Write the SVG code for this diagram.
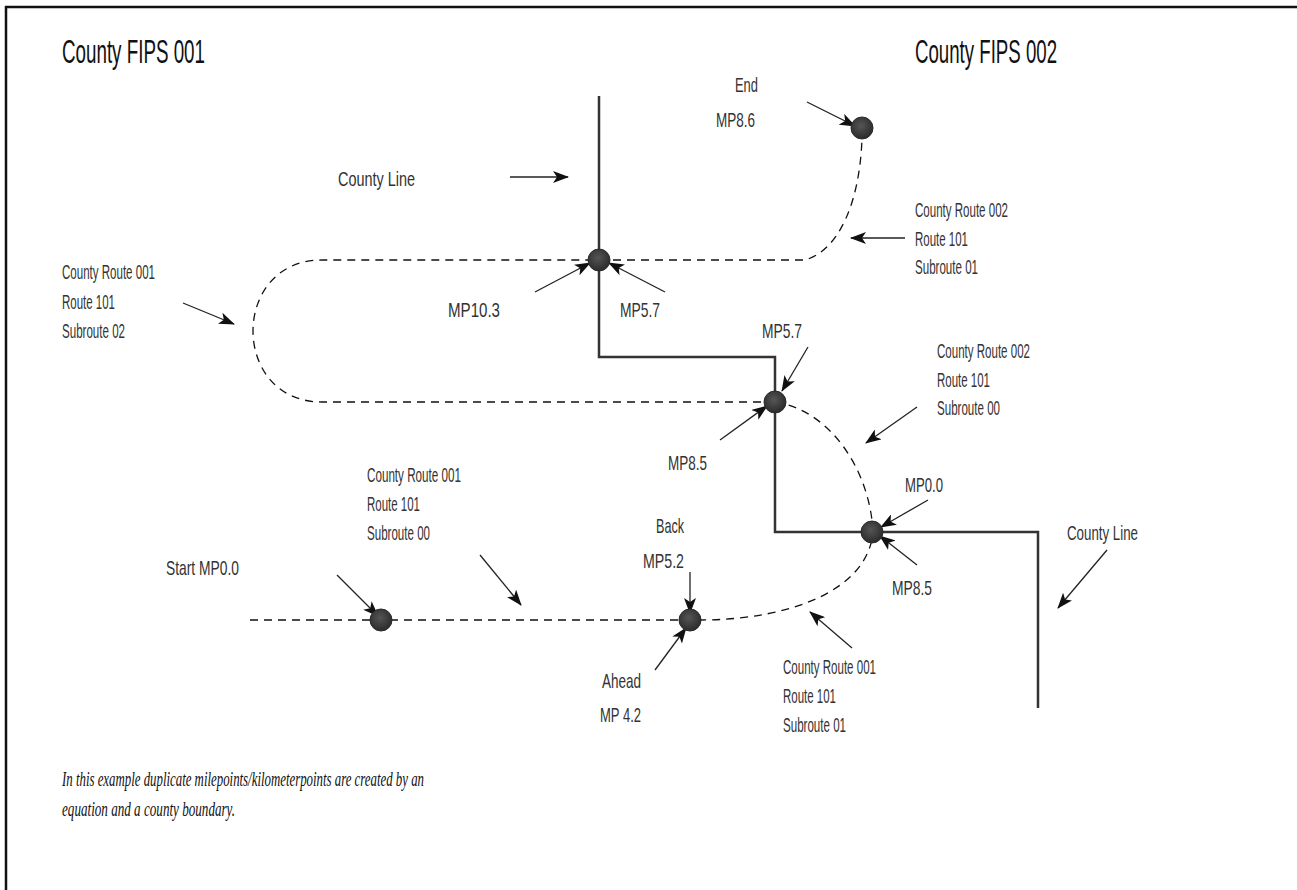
<svg xmlns="http://www.w3.org/2000/svg" width="1297" height="890" viewBox="0 0 1297 890">
<style>
.t{font-family:"Liberation Sans",Arial,sans-serif;font-size:21px;fill:#333}
.ti{font-family:"Liberation Sans",Arial,sans-serif;font-size:34px;fill:#111}
.fn{font-family:"Liberation Serif","Times New Roman",serif;font-style:italic;font-size:22px;fill:#111}
.cl{fill:none;stroke:#333;stroke-width:2.5}
.rd{fill:none;stroke:#111;stroke-width:1.3;stroke-dasharray:8,6}
.ar{fill:none;stroke:#222;stroke-width:1.3;marker-end:url(#ah)}
.dot{fill:url(#dg);stroke:#2a2a2a;stroke-width:1}
</style>
<defs>
<marker id="ah" viewBox="0 0 16 12" refX="15" refY="6" markerWidth="16" markerHeight="12" markerUnits="userSpaceOnUse" orient="auto">
<path d="M0,0 L16,6 L0,12 L4,6 z" fill="#111"/>
</marker>
<radialGradient id="dg" cx="0.45" cy="0.4" r="0.6">
<stop offset="0" stop-color="#555"/>
<stop offset="1" stop-color="#2b2b2b"/>
</radialGradient>
</defs>
<rect width="1297" height="890" fill="#fff"/>
<g id="border" stroke="#111" stroke-width="2.5">
<line x1="5" y1="7" x2="1297" y2="7"/>
<line x1="6" y1="6" x2="6" y2="890"/>
</g>
<g id="titles">
<text class="ti" x="62" y="63" textLength="143" lengthAdjust="spacingAndGlyphs">County FIPS 001</text>
<text class="ti" x="915" y="63" textLength="142" lengthAdjust="spacingAndGlyphs">County FIPS 002</text>
</g>
<g id="county-lines">
<path class="cl" d="M599,96 V357 H775 V532 H1038 V708"/>
</g>
<g id="routes">
<path class="rd" d="M250,620 H700 C790,620 868,590 873,532"/>
<path class="rd" d="M775,402 C830,410 870,470 873,532"/>
<path class="rd" d="M775,402 H322 C230,402 230,260 322,260 H599"/>
<path class="rd" d="M599,260 H805 C840,250 860,200 862,138"/>
</g>
<g id="connectors">
<line class="ar" x1="510" y1="177" x2="568" y2="177"/>
<line class="ar" x1="807" y1="102" x2="855" y2="126"/>
<line class="ar" x1="905" y1="238" x2="851" y2="238"/>
<line class="ar" x1="535" y1="292" x2="590" y2="263"/>
<line class="ar" x1="665" y1="292" x2="609" y2="263"/>
<line class="ar" x1="183" y1="303" x2="234" y2="324"/>
<line class="ar" x1="808" y1="347" x2="782" y2="391"/>
<line class="ar" x1="720" y1="440" x2="767" y2="406"/>
<line class="ar" x1="917" y1="407" x2="866" y2="443"/>
<line class="ar" x1="928" y1="500" x2="881" y2="527"/>
<line class="ar" x1="917" y1="565" x2="880" y2="536"/>
<line class="ar" x1="1107" y1="550" x2="1058" y2="608"/>
<line class="ar" x1="852" y1="648" x2="810" y2="612"/>
<line class="ar" x1="337" y1="575" x2="378" y2="616"/>
<line class="ar" x1="480" y1="555" x2="521" y2="605"/>
<line class="ar" x1="690" y1="572" x2="690" y2="613"/>
<line class="ar" x1="655" y1="670" x2="686" y2="628"/>
</g>
<g id="node-end"><circle class="dot" cx="862" cy="128" r="11"/></g>
<g id="node-mp10-3"><circle class="dot" cx="599" cy="260" r="11"/></g>
<g id="node-mp5-7"><circle class="dot" cx="775" cy="402" r="11"/></g>
<g id="node-mp0-0"><circle class="dot" cx="872" cy="532" r="11"/></g>
<g id="node-start"><circle class="dot" cx="381" cy="620" r="11"/></g>
<g id="node-back"><circle class="dot" cx="690" cy="620" r="11"/></g>
<g id="labels">
<text class="t" x="735" y="92" textLength="23" lengthAdjust="spacingAndGlyphs">End</text>
<text class="t" x="716" y="127" textLength="39" lengthAdjust="spacingAndGlyphs">MP8.6</text>
<text class="t" x="338" y="186" textLength="77" lengthAdjust="spacingAndGlyphs">County Line</text>
<text class="t" x="915" y="217" textLength="93" lengthAdjust="spacingAndGlyphs">County Route 002</text>
<text class="t" x="915" y="246" textLength="53" lengthAdjust="spacingAndGlyphs">Route 101</text>
<text class="t" x="915" y="274" textLength="63" lengthAdjust="spacingAndGlyphs">Subroute 01</text>
<text class="t" x="62" y="279" textLength="93" lengthAdjust="spacingAndGlyphs">County Route 001</text>
<text class="t" x="62" y="309" textLength="53" lengthAdjust="spacingAndGlyphs">Route 101</text>
<text class="t" x="62" y="338" textLength="63" lengthAdjust="spacingAndGlyphs">Subroute 02</text>
<text class="t" x="448" y="317" textLength="52" lengthAdjust="spacingAndGlyphs">MP10.3</text>
<text class="t" x="620" y="317" textLength="40" lengthAdjust="spacingAndGlyphs">MP5.7</text>
<text class="t" x="762" y="338" textLength="40" lengthAdjust="spacingAndGlyphs">MP5.7</text>
<text class="t" x="937" y="358" textLength="93" lengthAdjust="spacingAndGlyphs">County Route 002</text>
<text class="t" x="937" y="387" textLength="53" lengthAdjust="spacingAndGlyphs">Route 101</text>
<text class="t" x="937" y="415" textLength="63" lengthAdjust="spacingAndGlyphs">Subroute 00</text>
<text class="t" x="668" y="470" textLength="39" lengthAdjust="spacingAndGlyphs">MP8.5</text>
<text class="t" x="367" y="482" textLength="94" lengthAdjust="spacingAndGlyphs">County Route 001</text>
<text class="t" x="367" y="511" textLength="53" lengthAdjust="spacingAndGlyphs">Route 101</text>
<text class="t" x="367" y="540" textLength="63" lengthAdjust="spacingAndGlyphs">Subroute 00</text>
<text class="t" x="905" y="492" textLength="38" lengthAdjust="spacingAndGlyphs">MP0.0</text>
<text class="t" x="656" y="533" textLength="28" lengthAdjust="spacingAndGlyphs">Back</text>
<text class="t" x="643" y="568" textLength="41" lengthAdjust="spacingAndGlyphs">MP5.2</text>
<text class="t" x="1067" y="540" textLength="71" lengthAdjust="spacingAndGlyphs">County Line</text>
<text class="t" x="166" y="575" textLength="73" lengthAdjust="spacingAndGlyphs">Start MP0.0</text>
<text class="t" x="892" y="595" textLength="40" lengthAdjust="spacingAndGlyphs">MP8.5</text>
<text class="t" x="602" y="688" textLength="39" lengthAdjust="spacingAndGlyphs">Ahead</text>
<text class="t" x="600" y="722" textLength="41" lengthAdjust="spacingAndGlyphs">MP 4.2</text>
<text class="t" x="783" y="674" textLength="93" lengthAdjust="spacingAndGlyphs">County Route 001</text>
<text class="t" x="783" y="703" textLength="53" lengthAdjust="spacingAndGlyphs">Route 101</text>
<text class="t" x="783" y="732" textLength="63" lengthAdjust="spacingAndGlyphs">Subroute 01</text>
</g>
<g id="footnote">
<text class="fn" x="62" y="786" textLength="362" lengthAdjust="spacingAndGlyphs">In this example duplicate milepoints/kilometerpoints are created by an</text>
<text class="fn" x="62" y="816" textLength="173" lengthAdjust="spacingAndGlyphs">equation and a county boundary.</text>
</g>
</svg>
